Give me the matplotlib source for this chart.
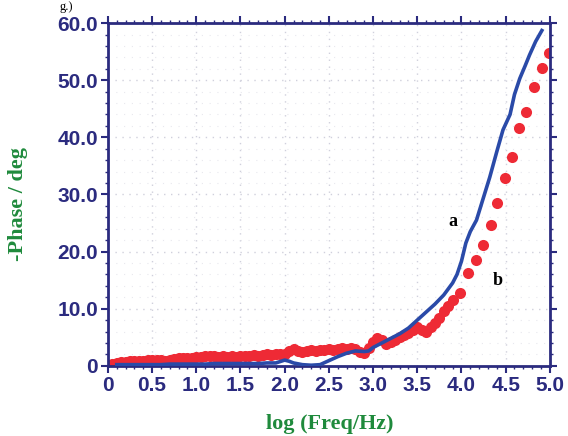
import matplotlib.pyplot as plt
from matplotlib.ticker import MultipleLocator

# curve a (solid blue line)
a_x = [0.10, 0.20, 0.30, 0.40, 0.50, 0.60, 0.70, 0.80, 0.90, 1.00, 1.10, 1.20, 1.30,
       1.40, 1.50, 1.60, 1.70, 1.80, 1.90, 2.00, 2.05, 2.10, 2.20, 2.30, 2.40, 2.50,
       2.60, 2.70, 2.80, 2.90, 2.95, 3.00, 3.10, 3.20, 3.30, 3.40, 3.50, 3.60, 3.70,
       3.80, 3.90, 3.95, 4.00, 4.05, 4.10, 4.17, 4.25, 4.32, 4.40, 4.47, 4.55, 4.60,
       4.66, 4.72, 4.77, 4.84, 4.91]
a_y = [0.2, 0.2, 0.2, 0.2, 0.2, 0.2, 0.3, 0.3, 0.3, 0.3, 0.3, 0.4, 0.4,
       0.4, 0.4, 0.4, 0.4, 0.5, 0.5, 1.0, 0.8, 0.5, 0.2, 0.1, 0.2, 0.9,
       1.6, 2.2, 2.6, 2.5, 2.6, 3.2, 4.0, 4.8, 5.6, 6.6, 8.0, 9.4, 10.8,
       12.4, 14.5, 16.0, 18.3, 21.5, 23.5, 25.5, 29.5, 33.0, 37.5, 41.3, 44.0, 47.5,
       50.3, 52.5, 54.4, 56.8, 58.7]

# curve b (red dots)
b_x = [0.05, 0.10, 0.15, 0.20, 0.25, 0.30, 0.35, 0.40, 0.45, 0.50, 0.55, 0.60, 0.65,
       0.70, 0.75, 0.80, 0.85, 0.90, 0.95, 1.00, 1.05, 1.10, 1.15, 1.20, 1.25, 1.30,
       1.35, 1.40, 1.45, 1.50, 1.55, 1.60, 1.65, 1.70, 1.75, 1.80, 1.85, 1.90, 1.95,
       2.00, 2.05, 2.10, 2.15, 2.20, 2.25, 2.30, 2.35, 2.40, 2.45, 2.50, 2.55, 2.60,
       2.65, 2.70, 2.75, 2.80, 2.85, 2.90, 2.95, 3.00, 3.05, 3.10, 3.15, 3.20, 3.25,
       3.30, 3.35, 3.40, 3.45, 3.50, 3.55, 3.60, 3.65, 3.70, 3.75, 3.80, 3.85, 3.90,
       3.98, 4.07, 4.17, 4.24, 4.33, 4.40, 4.49, 4.57, 4.65, 4.73, 4.82, 4.91, 4.99]
b_y = [0.3, 0.5, 0.6, 0.7, 0.8, 0.8, 0.9, 0.9, 1.0, 1.0, 1.0, 1.1, 0.8,
       1.1, 1.2, 1.3, 1.3, 1.4, 1.4, 1.5, 1.6, 1.7, 1.7, 1.7, 1.6, 1.7,
       1.6, 1.7, 1.6, 1.7, 1.8, 1.8, 1.9, 1.8, 1.9, 2.0, 1.9, 2.0, 2.0,
       2.1, 2.6, 2.9, 2.6, 2.5, 2.6, 2.7, 2.6, 2.8, 2.7, 2.9, 2.8, 2.9,
       3.1, 3.0, 3.1, 2.9, 2.5, 2.3, 3.2, 4.2, 4.9, 4.5, 3.8, 4.2, 4.6,
       5.0, 5.4, 5.8, 6.2, 6.8, 6.2, 5.9, 6.8, 7.5, 8.4, 9.6, 10.4, 11.5,
       12.7, 16.3, 18.5, 21.1, 24.6, 28.5, 32.8, 36.6, 41.6, 44.5, 48.8, 52.1, 54.7]

x_ticks = [0, 0.5, 1.0, 1.5, 2.0, 2.5, 3.0, 3.5, 4.0, 4.5, 5.0]
x_labels = ['0', '0.5', '1.0', '1.5', '2.0', '2.5', '3.0', '3.5', '4.0', '4.5', '5.0']
y_ticks = [0, 10, 20, 30, 40, 50, 60]
y_labels = ['0', '10.0', '20.0', '30.0', '40.0', '50.0', '60.0']

navy = '#2b2b7f'
green = '#1f8a3c'

fig = plt.figure(figsize=(5.68, 4.36), dpi=100)
ax = fig.add_axes([0.190, 0.161, 0.778, 0.786])

ax.plot(b_x, b_y, 'o', color='#ee2a35', ms=8, mec='none', zorder=2)
ax.plot(a_x, a_y, '-', color='#2a4aa8', lw=2.6, zorder=3)

ax.set_xlim(0, 5.0)
ax.set_ylim(0, 60)
ax.set_xticks(x_ticks)
ax.set_xticklabels(x_labels)
ax.set_yticks(y_ticks)
ax.set_yticklabels(y_labels)
ax.xaxis.set_minor_locator(MultipleLocator(0.1))
ax.yaxis.set_minor_locator(MultipleLocator(2))

for lab in ax.get_xticklabels() + ax.get_yticklabels():
    lab.set_fontfamily('Liberation Sans')
    lab.set_fontweight('bold')
    lab.set_fontsize(15)
    lab.set_color(navy)

ax.tick_params(which='major', direction='out', length=5, width=1.5, color=navy,
               top=True, right=True, pad=2)
ax.tick_params(which='minor', direction='out', length=2.5, width=1, color=navy,
               top=True, right=True)
for s in ax.spines.values():
    s.set_color(navy)
    s.set_linewidth(2)

ax.grid(True, which='major', ls=(0, (1, 4)), color='#d0d0dc', lw=1)
ax.grid(True, which='minor', axis='y', ls=(0, (1, 6)), color='#e8e8ee', lw=0.8)
ax.set_axisbelow(True)

ax.set_xlabel('log (Freq/Hz)', family='Liberation Serif', weight='bold',
              fontsize=16, color=green)
ax.set_ylabel('-Phase / deg', family='Liberation Serif', weight='bold',
              fontsize=16, color=green)
ax.xaxis.set_label_coords(0.502, -0.169)
ax.yaxis.set_label_coords(-0.204, 0.472)
ax.xaxis.label.set_va('center')
ax.yaxis.label.set_va('center')

ax.text(3.85, 24.5, 'a', family='Liberation Serif', weight='bold', fontsize=13)
ax.text(4.35, 14.2, 'b', family='Liberation Serif', weight='bold', fontsize=13)

fig.text(0.105, 0.998, 'g.)', family='Liberation Serif', fontsize=9,
         va='top', ha='left')

fig.savefig('out.png', dpi=100)
